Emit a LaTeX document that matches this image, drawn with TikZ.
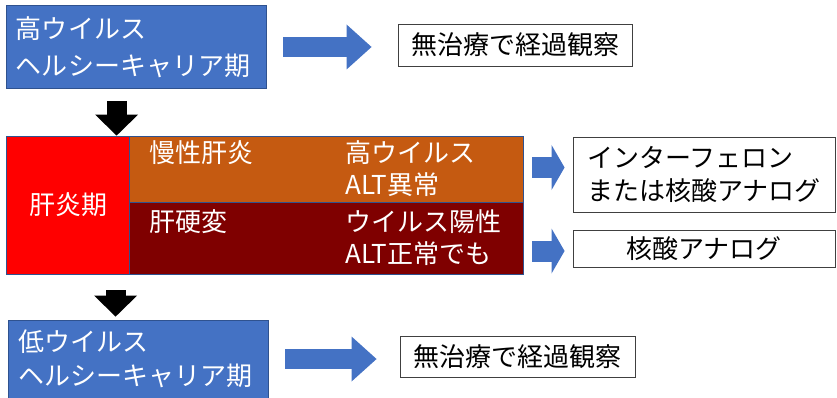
\documentclass[tikz,border=0pt]{standalone}
\usepackage{fontspec}
\setmainfont{Noto Sans CJK JP}
\usepackage{xcolor}
\usepackage{tikz}
\usetikzlibrary{arrows.meta,calc,positioning}

\definecolor{carrierblue}{HTML}{4472C4}
\definecolor{outlineblue}{HTML}{2F528F}
\definecolor{hepred}{HTML}{FF0000}
\definecolor{chronicorange}{HTML}{C55A11}
\definecolor{cirrhosisred}{HTML}{7F0000}
\definecolor{boxgray}{HTML}{404040}

\begin{document}
\begin{tikzpicture}[x=1pt,y=-1pt,
  font=\fontsize{26}{32}\selectfont,
  phase box/.style={draw=outlineblue,line width=0.8pt,inner sep=0pt,text=white},
  carrier/.style={phase box,fill=carrierblue,align=left,inner xsep=10pt,text width=240pt},
  row text/.style={inner sep=0pt,text=white,align=left},
  treat box/.style={draw=boxgray,line width=0.9pt,fill=white,inner sep=0pt,align=left},
  wide arrow/.style={draw=carrierblue,line width=20pt,-{Triangle[length=25pt,width=45pt,line width=0pt]}},
  side arrow/.style={draw=carrierblue,line width=21pt,-{Triangle[length=13pt,width=45pt,line width=0pt]}},
  down arrow/.style={draw=black,line width=20pt,-{Triangle[length=21pt,width=43pt,line width=0pt]}}]

\useasboundingbox (0,0) rectangle (837,398);

% carrier phases (top and bottom)
\node[carrier,minimum height=83pt,font=\fontsize{26}{37}\selectfont] (hb) at (136,47) {高ウイルス\\ヘルシーキャリア期};
\node[carrier,minimum height=78pt,font=\fontsize{26}{34}\selectfont] (lb) at (138,359) {低ウイルス\\ヘルシーキャリア期};

% hepatitis phase block
\node[phase box,fill=hepred,minimum width=124pt,minimum height=138pt] (phase) at (68,205) {肝炎期};
\node[phase box,fill=chronicorange,minimum width=394pt,minimum height=66pt] (chronic) at (326.5,169) {};
\node[phase box,fill=cirrhosisred,minimum width=394pt,minimum height=72pt] (cirrhosis) at (326.5,238) {};

\node[row text,anchor=west] (chronicinfo) at (345,169) {高ウイルス\\ALT異常};
\node[row text,anchor=north west] (chroniclabel) at ($(chronic.west |- chronicinfo.north)+(20,0)$) {慢性肝炎};
\node[row text,anchor=west] (cirrhosisinfo) at (345,238) {ウイルス陽性\\ALT正常でも};
\node[row text,anchor=north west] (cirrhosislabel) at ($(cirrhosis.west |- cirrhosisinfo.north)+(20,0)$) {肝硬変};

% treatments
\node[treat box,minimum width=234pt,minimum height=42pt] (obs1) at (515,45) {無治療で経過観察};
\node[treat box,minimum width=235pt,minimum height=41pt] (obs2) at (517.5,357) {無治療で経過観察};
\node[treat box,minimum width=262pt,minimum height=75pt,font=\fontsize{26}{33}\selectfont] (ifn) at (704,174.5) {インターフェロン\\または核酸アナログ};
\node[treat box,minimum width=262pt,minimum height=37pt] (nuc) at (704,248.5) {核酸アナログ};

\coordinate (drop1) at ($(hb.south west)+(111,0)$);
\coordinate (drop2) at ($(phase.south west)+(110,0)$);

\draw[down arrow,shorten <=12pt] (drop1) -- (drop1 |- phase.north);
\draw[down arrow,shorten <=16pt,shorten >=3pt] (drop2) -- (drop2 |- lb.north);

\draw[wide arrow,shorten <=17pt,shorten >=26pt] (hb.east) -- (hb.east -| obs1.west);
\draw[wide arrow,shorten <=17pt,shorten >=23pt] (lb.east) -- (lb.east -| obs2.west);
\draw[side arrow,shorten <=8.5pt,shorten >=8pt] ($(chronic.east |- ifn.west)+(0,-7)$) -- ($(ifn.west)+(0,-7)$);
\draw[side arrow,shorten <=8.5pt,shorten >=8pt] ($(cirrhosis.east |- nuc.west)+(0,2.5)$) -- ($(nuc.west)+(0,2.5)$);
\end{tikzpicture}
\end{document}
